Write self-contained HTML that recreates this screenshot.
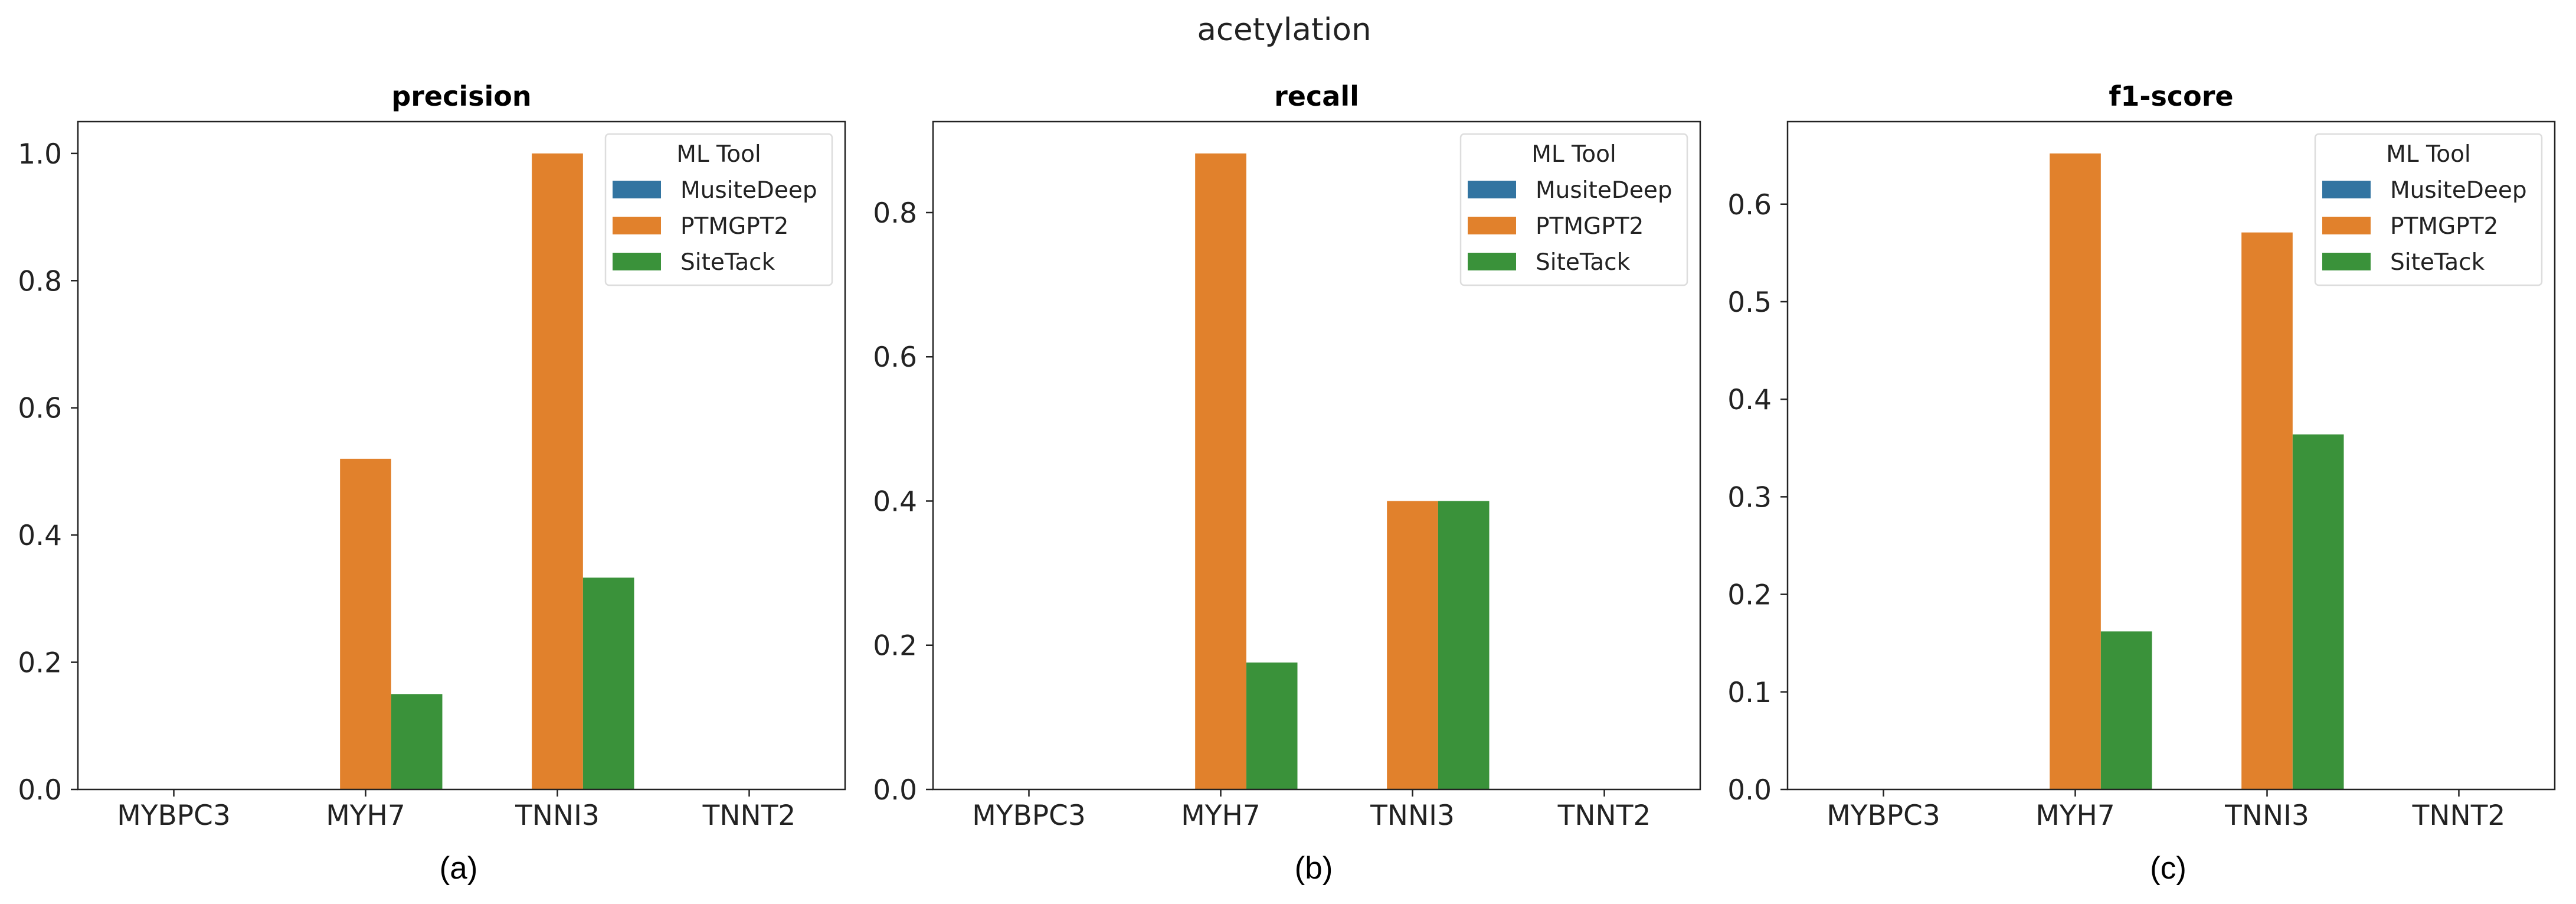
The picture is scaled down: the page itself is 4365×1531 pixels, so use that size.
<!DOCTYPE html>
<html><head><meta charset="utf-8"><style>
html,body{margin:0;padding:0;background:#fff;}
svg{display:block;font-family:"DejaVu Sans","Liberation Sans",sans-serif;}
</style></head><body>
<svg id="chart" width="4365" height="1531" xmlns="http://www.w3.org/2000/svg">
<text x="2176" y="68" font-size="53" text-anchor="middle" fill="#222">acetylation</text>
</svg>
<script>
const categories = ["MYBPC3","MYH7","TNNI3","TNNT2"];
const tools = ["MusiteDeep","PTMGPT2","SiteTack"];
const precisionMusite = [0,0,0,0];
const precisionPtm = [0,0.52,1.0,0];
const precisionSite = [0,0.15,0.333,0];
const recallMusite = [0,0,0,0];
const recallPtm = [0,0.882,0.4,0];
const recallSite = [0,0.176,0.4,0];
const f1Musite = [0,0,0,0];
const f1Ptm = [0,0.652,0.571,0];
const f1Site = [0,0.162,0.364,0];
const precisionTicks = ["0.0","0.2","0.4","0.6","0.8","1.0"];
const recallTicks = ["0.0","0.2","0.4","0.6","0.8"];
const f1Ticks = ["0.0","0.1","0.2","0.3","0.4","0.5","0.6"];
const panelTitles = ["precision","recall","f1-score"];
const panelLetters = ["(a)","(b)","(c)"];

const colors = ["#3274a1","#e1812c","#3a923a"];
const svgEl = document.getElementById('chart');
const NS = "http://www.w3.org/2000/svg";
function mk(tag, attrs, parent){
  const e = document.createElementNS(NS, tag);
  for (const k in attrs) e.setAttribute(k, attrs[k]);
  (parent||svgEl).appendChild(e);
  return e;
}
const panels = [
  {left:132, series:[precisionMusite,precisionPtm,precisionSite], ticks:precisionTicks},
  {left:1581, series:[recallMusite,recallPtm,recallSite], ticks:recallTicks},
  {left:3029, series:[f1Musite,f1Ptm,f1Site], ticks:f1Ticks}
];
const plotTop = 206, plotBottom = 1337, plotW = 1300;
panels.forEach((p, pi) => {
  const g = mk('g', {});
  
  
  let maxV = 0;
  p.series.forEach(s => s.forEach(v => { if (v > maxV) maxV = v; }));
  const ymax = maxV * 1.05;
  const y = v => plotBottom - (v / ymax) * (plotBottom - plotTop);
  const band = plotW / categories.length;
  const xc = i => p.left + band * (i + 0.5);
  const bw = band * 0.8 / 3;
  p.series.forEach((s, si) => {
    s.forEach((v, ci) => {
      if (v <= 0) return;
      const r = mk('rect', {x: xc(ci) - 1.5*bw + si*bw, y: y(v), width: bw, height: plotBottom - y(v), fill: colors[si]}, g);
      
      
    });
  });
  p.ticks.forEach(t => {
    const v = parseFloat(t);
    const yy = y(v);
    mk('line', {x1: p.left - 12, x2: p.left, y1: yy, y2: yy, stroke: '#222', 'stroke-width': 2.5}, g);
    const tx = mk('text', {x: p.left - 27, y: yy + 17, 'font-size': 47, 'text-anchor': 'end', fill: '#222'}, g);
    tx.textContent = t;
    
    
  });
  categories.forEach((c, ci) => {
    mk('line', {x1: xc(ci), x2: xc(ci), y1: plotBottom, y2: plotBottom + 12, stroke: '#222', 'stroke-width': 2.5}, g);
    const tx = mk('text', {x: xc(ci), y: plotBottom + 60, 'font-size': 47, 'text-anchor': 'middle', fill: '#222'}, g);
    tx.textContent = c;
    
    
  });
  mk('rect', {x: p.left, y: plotTop, width: plotW, height: plotBottom - plotTop, fill: 'none', stroke: '#222', 'stroke-width': 2.5}, g);
  const tt = mk('text', {x: p.left + plotW/2, y: 179, 'font-size': 46, 'font-weight': 'bold', 'text-anchor': 'middle', fill: '#000'}, g);
  tt.textContent = panelTitles[pi];
  
  
  const lt = mk('text', {x: p.left + plotW/2 - 5, y: 1488, 'font-family': 'Liberation Sans, sans-serif', 'font-size': 53, 'text-anchor': 'middle', fill: '#000'}, g);
  lt.textContent = panelLetters[pi];
  
  
  const lg = mk('g', {}, g);
  
  
  const lx = p.left + plotW - 406, ly = plotTop + 21;
  mk('rect', {x: lx, y: ly, width: 384, height: 256, rx: 6, fill: '#fff', stroke: '#ddd', 'stroke-width': 2.5}, lg);
  const lt2 = mk('text', {x: lx + 192, y: ly + 47, 'font-size': 39, 'text-anchor': 'middle', fill: '#222'}, lg);
  lt2.textContent = 'ML Tool';
  
  
  tools.forEach((t, ti) => {
    const ey = ly + 94 + ti * 61;
    const e = mk('g', {}, lg);
    
    
    mk('rect', {x: lx + 12, y: ey - 15, width: 82, height: 30, fill: colors[ti]}, e);
    const et = mk('text', {x: lx + 127, y: ey + 14, 'font-size': 39, fill: '#222'}, e);
    et.textContent = t;
  });
});
</script>
</body></html>
